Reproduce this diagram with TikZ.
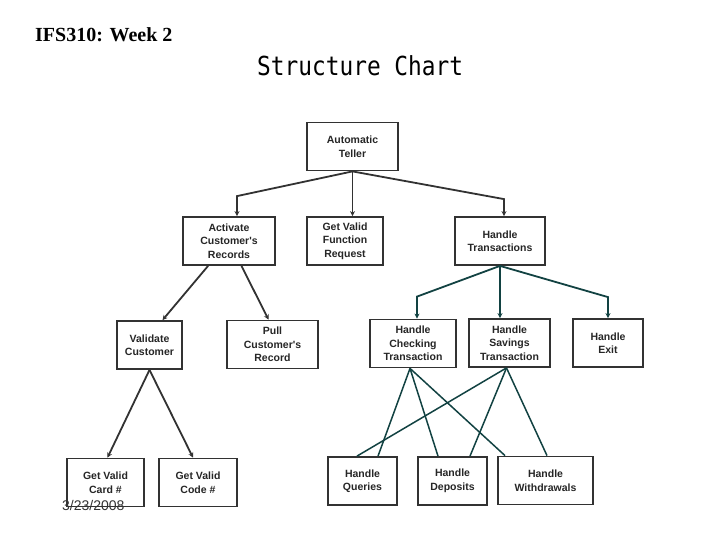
\documentclass[tikz,border=0pt]{standalone}
\usepackage{fontspec}
\setmainfont{Liberation Serif}
\newfontfamily\boxfont{Liberation Sans}
\newfontfamily\chartfont{DejaVu Sans Mono}
\usetikzlibrary{arrows.meta}
\definecolor{callteal}{RGB}{18,66,66}
\definecolor{boxgray}{RGB}{50,50,50}

\tikzset{
  module/.style={draw=boxgray, line width=1.8pt, fill=white, align=center,
    inner sep=1pt, minimum height=48pt, text=black!85,
    font=\boxfont\bfseries\fontsize{10.5}{13.5}\selectfont},
  link/.style={draw=boxgray, line width=1.8pt, -{Stealth[length=5pt,width=5pt]}},
  tlink/.style={link, draw=callteal},
  call/.style={draw=callteal, line width=1.5pt},
}

\begin{document}
\begin{tikzpicture}[x=1pt, y=-1pt]
  \useasboundingbox (0,0) rectangle (720,540);

  % Titres
  \node[anchor=base west, inner sep=0, font=\bfseries\fontsize{20}{24}\selectfont] (week) at (35,42) {IFS310: Week 2};
  \node[anchor=base west, inner sep=0, font=\chartfont\fontsize{22.8}{26}\selectfont] (title) at (257,76) {\scalebox{1}[1.15]{Structure Chart}};

  % Les modules
  \node[module, minimum width=91pt] (teller) at (352.5,146.5) {Automatic\\Teller};
  \node[module, minimum width=92pt] (actrec) at (229,241) {Activate\\Customer's\\Records};
  \node[module, minimum width=76pt] (getfunc) at (345,241) {Get Valid\\Function\\Request};
  \node[module, minimum width=90pt] (handtr) at (500,241) {Handle\\Transactions};

  \node[module, minimum width=65pt] (valcust) at (149.5,345) {Validate\\Customer};
  \node[module, minimum width=91pt] (pullrec) at (272.5,344.5) {Pull\\Customer's\\Record};
  \node[module, minimum width=86pt] (handchk) at (413,343.5) {Handle\\Checking\\Transaction};
  \node[module, minimum width=81pt] (handsav) at (509.5,343) {Handle\\Savings\\Transaction};
  \node[module, minimum width=70pt] (handexit) at (608,343) {Handle\\Exit};

  \node[module, minimum width=77pt] (getcard) at (105.5,482.5) {Get Valid\\Card \#};
  \node[module, minimum width=78pt] (getcode) at (198,482.5) {Get Valid\\Code \#};
  \node[module, minimum width=69pt] (handqry) at (362.5,481) {Handle\\Queries};
  \node[module, minimum width=69pt] (handdep) at (452.5,481) {Handle\\Deposits};
  \node[module, minimum width=95pt] (handwdr) at (545.5,480.5) {Handle\\Withdrawals};

  % Liens du module principal
  \draw[link] (teller.south) -- ([xshift=8pt, yshift=20pt]actrec.north) -- ([xshift=8pt]actrec.north);
  \draw[link] (teller.south) -- (teller.south |- getfunc.north);
  \draw[link] (teller.south) -- ([xshift=4pt, yshift=17pt]handtr.north) -- ([xshift=4pt]handtr.north);

  % Liens de gauche
  \draw[link] (actrec) -- ([xshift=13pt]valcust.north);
  \draw[link] (actrec) -- ([xshift=-4pt]pullrec.north);
  \draw[link] (valcust.south) -- ([xshift=2pt]getcard.north);
  \draw[link] (valcust.south) -- ([xshift=-5pt]getcode.north);

  % Liens des transactions
  \draw[tlink] (handtr.south) -- ([xshift=4pt, yshift=22pt]handchk.north) -- ([xshift=4pt]handchk.north);
  \draw[tlink] (handtr.south) -- (handtr.south |- handsav.north);
  \draw[tlink] (handtr.south) -- ([yshift=21pt]handexit.north) -- (handexit.north);

  % Appels partages
  \foreach \s/\t/\dx in {handchk/handqry/15.5, handchk/handdep/-14.5, handchk/handwdr/-40.5,
                         handsav/handqry/-5.5, handsav/handdep/17.5, handsav/handwdr/1.5} {
    \draw[call] ([xshift=-3pt]\s.south) -- ([xshift=\dx pt]\t.north);
  }

  % Date
  \node[anchor=base west, inner sep=0, text=black!80, font=\boxfont\fontsize{14}{16}\selectfont] (date) at (62,510) {3/23/2008};
\end{tikzpicture}
\end{document}
